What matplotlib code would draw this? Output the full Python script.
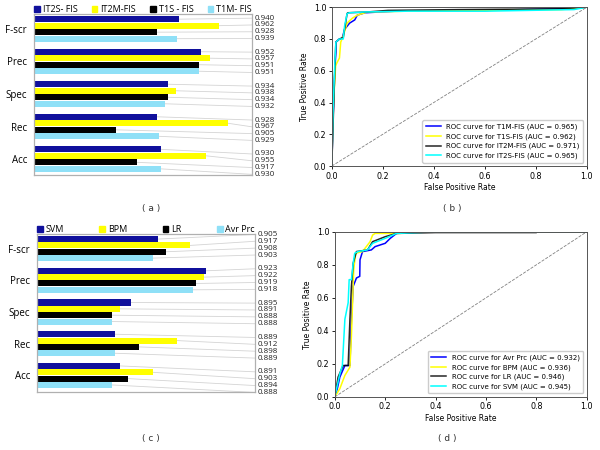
import numpy as np
import matplotlib
matplotlib.use('Agg')
import matplotlib.pyplot as plt
from matplotlib.patches import Patch

# bar chart data, rows top to bottom
metrics = ['F-scr', 'Prec', 'Spec', 'Rec', 'Acc']

fis_names = ['IT2S- FIS', 'IT2M-FIS', 'T1S - FIS', 'T1M- FIS']
fis_it2s = [0.940, 0.952, 0.934, 0.928, 0.930]
fis_it2m = [0.962, 0.957, 0.938, 0.967, 0.955]
fis_t1s = [0.928, 0.951, 0.934, 0.905, 0.917]
fis_t1m = [0.939, 0.951, 0.932, 0.929, 0.930]

clf_names = ['SVM', 'BPM', 'LR', 'Avr Prc']
clf_svm = [0.905, 0.923, 0.895, 0.889, 0.891]
clf_bpm = [0.917, 0.922, 0.891, 0.912, 0.903]
clf_lr = [0.908, 0.919, 0.888, 0.898, 0.894]
clf_avr = [0.903, 0.918, 0.888, 0.889, 0.888]

# ROC curves (b)
roc_b_names = ['T1M-FIS', 'T1S-FIS', 'IT2M-FIS', 'IT2S-FIS']
roc_b_auc = [0.965, 0.962, 0.971, 0.965]
t1m_fpr = [0, 0.005, 0.012, 0.016, 0.016, 0.03, 0.04, 0.05, 0.06, 0.07, 0.09, 0.1, 0.13, 0.25, 0.6, 0.9, 1.0]
t1m_tpr = [0, 0.3, 0.6, 0.72, 0.78, 0.8, 0.8, 0.86, 0.88, 0.9, 0.92, 0.95, 0.965, 0.975, 0.98, 0.99, 1.0]
t1s_fpr = [0, 0.005, 0.015, 0.02, 0.03, 0.035, 0.045, 0.06, 0.08, 0.1, 0.14, 0.3, 0.9, 1.0]
t1s_tpr = [0, 0.35, 0.63, 0.65, 0.68, 0.78, 0.82, 0.9, 0.93, 0.95, 0.97, 0.975, 0.985, 1.0]
it2m_fpr = [0, 0.01, 0.012, 0.016, 0.03, 0.045, 0.06, 0.063, 0.14, 0.22, 0.5, 0.9, 1.0]
it2m_tpr = [0, 0.52, 0.62, 0.78, 0.8, 0.81, 0.96, 0.965, 0.97, 0.98, 0.985, 0.99, 1.0]
it2s_fpr = [0, 0.005, 0.012, 0.016, 0.03, 0.045, 0.05, 0.06, 0.07, 0.13, 0.3, 0.6, 0.95, 1.0]
it2s_tpr = [0, 0.35, 0.65, 0.78, 0.8, 0.8, 0.88, 0.96, 0.965, 0.97, 0.975, 0.975, 0.985, 1.0]

# ROC curves (d)
roc_d_names = ['Avr Prc', 'BPM', 'LR', 'SVM']
roc_d_auc = [0.932, 0.936, 0.946, 0.945]
avr_fpr = [0, 0.01, 0.02, 0.04, 0.06, 0.066, 0.073, 0.086, 0.099, 0.1, 0.11, 0.145, 0.16, 0.2, 0.22, 0.245, 0.35, 1.0]
avr_tpr = [0, 0.05, 0.12, 0.19, 0.19, 0.47, 0.67, 0.72, 0.73, 0.83, 0.88, 0.89, 0.91, 0.93, 0.96, 0.99, 1.0, 1.0]
bpm_fpr = [0, 0.02, 0.04, 0.06, 0.066, 0.075, 0.083, 0.11, 0.14, 0.15, 0.16, 0.26, 0.3, 1.0]
bpm_tpr = [0, 0.05, 0.13, 0.18, 0.37, 0.77, 0.87, 0.88, 0.94, 0.98, 0.99, 0.99, 1.0, 1.0]
lr_fpr = [0, 0.013, 0.033, 0.053, 0.06, 0.066, 0.073, 0.086, 0.13, 0.15, 0.2, 0.245, 0.4, 0.8, 0.8, 1.0]
lr_tpr = [0, 0.12, 0.19, 0.19, 0.47, 0.67, 0.81, 0.88, 0.89, 0.94, 0.97, 0.99, 0.995, 0.995, 1.0, 1.0]
svm_fpr = [0, 0.007, 0.02, 0.03, 0.04, 0.053, 0.057, 0.066, 0.073, 0.079, 0.092, 0.13, 0.15, 0.2, 0.245, 0.4, 1.0]
svm_tpr = [0, 0.05, 0.14, 0.19, 0.47, 0.57, 0.71, 0.71, 0.81, 0.87, 0.88, 0.89, 0.93, 0.96, 0.99, 1.0, 1.0]

bar_colors = ['#10109c', '#ffff00', '#000000', '#8fe0f7']
roc_colors = ['blue', 'yellow', 'black', 'cyan']
bar_font = ['Open Sans', 'DejaVu Sans']


def bar_panel(ax, series, names, xlim, ylim, lab_a, lab_b):
    y = np.arange(len(metrics))[::-1]
    offsets = [0.3, 0.1, -0.1, -0.3]
    for vals, col, off in zip(series, bar_colors, offsets):
        ax.barh(y + off, vals, height=0.19, color=col, zorder=2)
        for yi, v in zip(y + off, vals):
            ly = lab_a * yi + lab_b
            ax.plot([v, xlim[1]], [yi, ly], color='#d4d4d4', lw=0.6, zorder=1, clip_on=False)
            ax.text(1.013, ly, f'{v:.3f}', transform=ax.get_yaxis_transform(),
                    va='center', ha='left', fontsize=5.8, family=bar_font, color='#222222')
    ax.set_xlim(*xlim)
    ax.set_ylim(*ylim)
    ax.set_yticks(y)
    ax.set_yticklabels(metrics, family=bar_font, fontsize=7)
    ax.set_xticks([])
    ax.tick_params(axis='y', length=0, pad=5)
    for s in ax.spines.values():
        s.set_color('#b0b0b0')
        s.set_linewidth(0.9)
    handles = [Patch(color=c) for c in bar_colors]
    ax.legend(handles, names, loc='lower left', bbox_to_anchor=(0, 1.0, 1, 0.08), mode='expand',
              ncol=4, frameon=False, handlelength=0.65, handleheight=0.65, handletextpad=0.3,
              borderaxespad=0.0, borderpad=0.0, prop={'family': bar_font, 'size': 6.5})


def roc_panel(ax, curves, names, aucs):
    for (fpr, tpr), name, auc, col in zip(curves, names, aucs, roc_colors):
        ax.plot(fpr, tpr, color=col, lw=1.1, alpha=0.85 if col == 'black' else 1.0,
                label=f'ROC curve for {name} (AUC = {auc:.3f})')
    ax.plot([0, 1], [0, 1], color='gray', ls='--', lw=0.6)
    ax.set_xlim(0, 1)
    ax.set_ylim(0, 1)
    ax.set_xlabel('False Positive Rate', fontsize=5.5, labelpad=2)
    ax.set_ylabel('True Positive Rate', fontsize=5.5, labelpad=3)
    ax.tick_params(labelsize=5.8, length=2.5, width=0.6, pad=1.5)
    for s in ax.spines.values():
        s.set_color('#555555')
        s.set_linewidth(0.7)
    ax.legend(loc='lower right', fontsize=5, handlelength=2.2, borderpad=0.5,
              labelspacing=0.45, framealpha=1, edgecolor='#cccccc')


fig = plt.figure(figsize=(6, 4.5), dpi=100)

ax_a = fig.add_axes([0.0567, 0.611, 0.363, 0.358])
bar_panel(ax_a, [fis_it2s, fis_it2m, fis_t1s, fis_t1m], fis_names,
          (0.86, 0.98), (-0.49, 4.46), 1.043, -0.155)

ax_c = fig.add_axes([0.0617, 0.129, 0.363, 0.351])
bar_panel(ax_c, [clf_svm, clf_bpm, clf_lr, clf_avr], clf_names,
          (0.86, 0.941), (-0.52, 4.46), 1.083, -0.21)

ax_b = fig.add_axes([0.553, 0.631, 0.425, 0.353])
roc_panel(ax_b, [(t1m_fpr, t1m_tpr), (t1s_fpr, t1s_tpr), (it2m_fpr, it2m_tpr), (it2s_fpr, it2s_tpr)],
          roc_b_names, roc_b_auc)

ax_d = fig.add_axes([0.558, 0.118, 0.42, 0.367])
roc_panel(ax_d, [(avr_fpr, avr_tpr), (bpm_fpr, bpm_tpr), (lr_fpr, lr_tpr), (svm_fpr, svm_tpr)],
          roc_d_names, roc_d_auc)

for label, x, y in [('( a )', 151, 209), ('( b )', 452, 209), ('( c )', 151, 439), ('( d )', 447, 438)]:
    fig.text(x / 600, 1 - y / 450, label, ha='center', va='center', fontsize=6.5, color='#333333')

fig.savefig('out.png', dpi=100)
